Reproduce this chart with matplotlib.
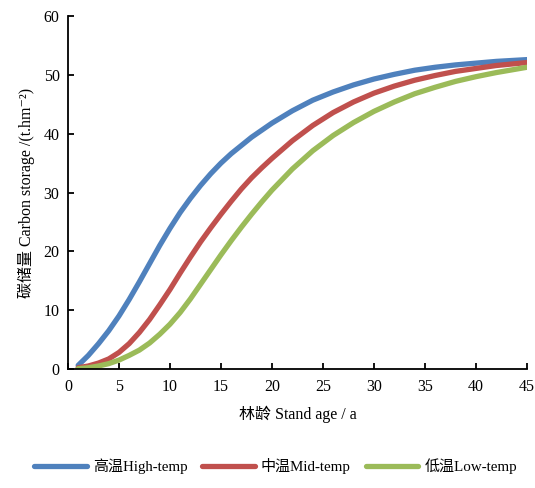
import numpy as np
import matplotlib
matplotlib.use("Agg")
import matplotlib.pyplot as plt

# carbon storage (t/hm2) against stand age, three temperature zones
age = [1, 2, 3, 4, 5, 6, 7, 8, 9, 10, 11, 12, 13, 14, 15, 16, 17, 18, 19, 20,
       22, 24, 26, 28, 30, 32, 34, 36, 38, 40, 42, 45]
high_temp = [0.6, 2.3, 4.3, 6.5, 9.0, 11.8, 14.8, 17.9, 21.0, 23.9, 26.6, 29.0,
             31.2, 33.2, 35.0, 36.6, 38.0, 39.4, 40.6, 41.8, 43.9, 45.7, 47.1,
             48.3, 49.3, 50.1, 50.8, 51.3, 51.7, 52.0, 52.3, 52.6]
mid_temp = [0.2, 0.5, 1.0, 1.7, 2.8, 4.3, 6.2, 8.4, 10.9, 13.5, 16.3, 19.0,
            21.6, 24.0, 26.3, 28.5, 30.6, 32.5, 34.2, 35.8, 38.8, 41.4, 43.6,
            45.4, 46.9, 48.1, 49.1, 49.9, 50.6, 51.1, 51.6, 52.1]
low_temp = [0.05, 0.2, 0.5, 0.9, 1.5, 2.3, 3.2, 4.4, 5.9, 7.6, 9.6, 11.9,
            14.4, 16.9, 19.4, 21.8, 24.1, 26.3, 28.4, 30.4, 34.0, 37.1, 39.7,
            41.9, 43.8, 45.4, 46.8, 47.9, 48.9, 49.7, 50.4, 51.3]

series = [
    ("高温High-temp", high_temp, "#4F81BD"),
    ("中温Mid-temp", mid_temp, "#C0504D"),
    ("低温Low-temp", low_temp, "#9BBB59"),
]

plt.rcParams["font.family"] = ["Liberation Serif", "Noto Sans CJK SC",
                               "DejaVu Serif"]

fig = plt.figure(figsize=(5.35, 4.88), dpi=100)
ax = fig.add_axes([0.127, 0.244, 0.858, 0.723])

for name, vals, col in series:
    ax.plot(age, vals, color=col, linewidth=3.8, label=name,
            solid_capstyle="round", solid_joinstyle="round")

ax.set_xlim(0, 45)
ax.set_ylim(0, 60)
ax.set_xticks(np.arange(0, 46, 5))
ax.set_yticks(np.arange(0, 61, 10))
for s in ["top", "right"]:
    ax.spines[s].set_visible(False)
for s in ["left", "bottom"]:
    ax.spines[s].set_linewidth(1.3)
ax.tick_params(direction="in", length=4, width=1.3, labelsize=11.5,
               colors="black")
ax.tick_params(axis="y", pad=6)
ax.tick_params(axis="x", pad=7)

ax.set_xlabel("林龄 Stand age / a", fontsize=11.5, labelpad=8)
ax.set_ylabel("碳储量 Carbon storage /(t.hm⁻²)", fontsize=11.5, labelpad=6)

fig.legend(loc="lower center", bbox_to_anchor=(0.515, 0.0), ncol=3,
           frameon=False, fontsize=10.8, handlelength=3.5,
           handletextpad=0.4, columnspacing=1.0)

fig.savefig("out.png", dpi=100)
